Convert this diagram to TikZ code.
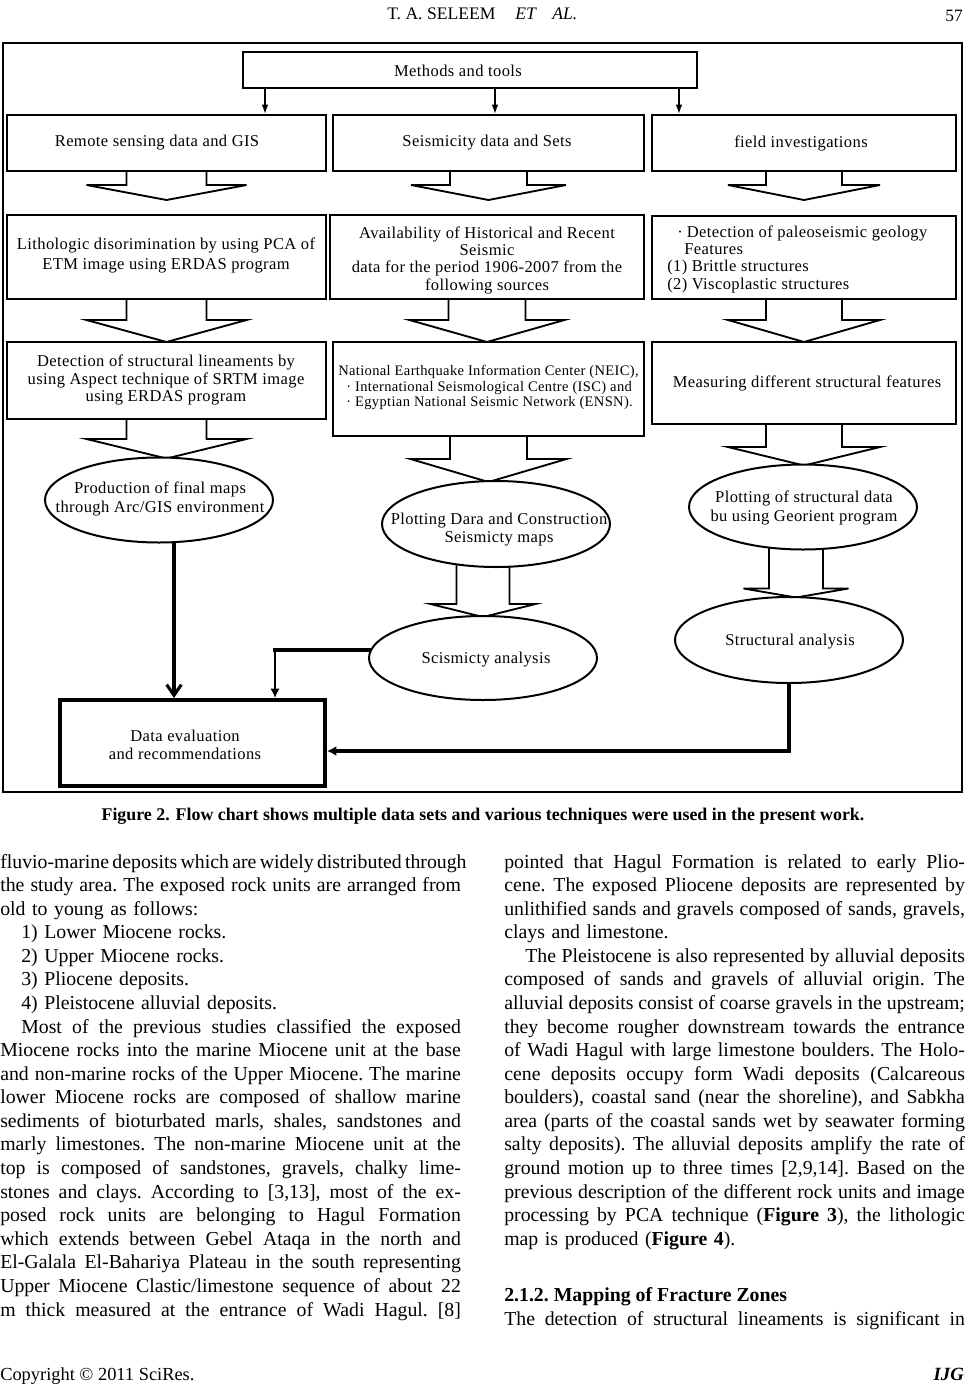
\documentclass[tikz,border=0pt]{standalone}
\usepackage{fontspec}
\setmainfont{Liberation Serif}
\newfontfamily\dfam[LetterSpace=2.4]{Liberation Serif}
\newcommand\dsize[2]{\dfam\fontsize{#1}{#2}\selectfont}
\newcommand\dfont{\dsize{12.4pt}{13pt}}
\newcommand\bodyfont{\fontsize{14.85pt}{17.685pt}\selectfont\frenchspacing}
\newcommand\bodyind{\hspace*{15.75pt}}
\newcommand\jl[1]{\makebox[345.5pt][s]{\spaceskip=0pt\xspaceskip=0pt #1}}
\usetikzlibrary{calc,arrows.meta,shapes.geometric,fit}
\pgfdeclarelayer{bg}
\pgfsetlayers{bg,main}
\newcommand\blockarrow[5]{%
  \draw[blk] ($(#1)+(-#2,-4)$) -- ($(#1)+(-#2,#4)$) -- ($(#1)+(-#3,#4)$) -- ($(#1)+(0,#5)$)
    -- ($(#1)+(#3,#4)$) -- ($(#1)+(#2,#4)$) -- ($(#1)+(#2,-4)$);}
\begin{document}
\begin{tikzpicture}[x=0.75pt,y=-0.75pt,
  box/.style={draw, line width=1.5pt, fill=white, inner sep=0pt, font=\dfont, align=center},
  oval/.style={draw, ellipse, line width=1.5pt, fill=white, inner sep=0pt, minimum width=171pt},
  txt/.style={inner sep=0pt, font=\dfont, align=center},
  blk/.style={line width=1.4pt, line join=miter},
  marrow/.style={line width=1.1pt, -{Latex[length=7pt,width=5pt]}},
  body/.style={inner sep=0pt, text width=345.5pt, align=left, font=\bodyfont},
]
\useasboundingbox (0,0) rectangle (969,1386);

% header
\node[font=\fontsize{13.2pt}{15pt}\selectfont, anchor=base west, inner sep=0pt] (hdr) at (387,19) {T. A. SELEEM};
\node[font=\fontsize{13.2pt}{15pt}\selectfont\itshape, anchor=base west, inner sep=0pt] (hdr2) at (515,19) {ET};
\node[font=\fontsize{13.2pt}{15pt}\selectfont\itshape, anchor=base west, inner sep=0pt] (hdr3) at (552,19) {AL.};
\node[font=\fontsize{13pt}{15pt}\selectfont, anchor=base east, inner sep=0pt] (pg) at (963,21) {57};

% frame
\node[draw, line width=0.8pt, fit={(3,43) (962,792)}, inner sep=0pt] (frame) {};

% top box
\node[box, fit={(243,52) (697,88)}] (meth) {};
\node[txt] (methT) at (458,71) {Methods and tools};

% row 1
\node[box, fit={(7,115) (326,171)}] (rs) {};
\node[txt] (rsT) at (157,143) {Remote sensing data and GIS};
\node[box, fit={(333,115) (644,171)}] (sd) {};
\node[txt] (sdT) at (487,143) {Seismicity data and Sets};
\node[box, fit={(652,115) (956,171)}] (fi) {};
\node[txt] (fiT) at (801,143) {field investigations};

% row 2
\node[box, fit={(7,215) (326,299)}] (li) {};
\node[txt, font={\dsize{12.4pt}{15pt}}] (liT) at (166,255)
  {Lithologic disorimination by using PCA of\\ETM image using ERDAS program};
\node[box, fit={(330,215) (644,299)}] (av) {};
\node[txt] (avT) at (487,260)
  {Availability of Historical and Recent\\Seismic\\data for the period 1906-2007 from the\\following sources};
\node[box, fit={(652,216) (956,299)}] (pa) {};
\node[txt, align=left, anchor=west] (paT) at (667,259)
  {\hspace*{7.5pt}·\hspace{3pt}Detection of paleoseismic geology\\\hspace*{12.75pt}Features\\(1) Brittle structures\\(2) Viscoplastic structures};

% row 3
\node[box, fit={(7,342) (326,419)}] (dl) {};
\node[txt] (dlT) at (166,380)
  {Detection of structural lineaments by\\using Aspect technique of SRTM image\\using ERDAS program};
\node[box, fit={(333,342) (644,436)}] (ne) {};
\node[txt, align=left, anchor=west, font={\dsize{10.9pt}{11.6pt}}] (neT) at (338,387.5)
  {National Earthquake Information Center (NEIC),\\\hspace*{6pt}·\hspace{3pt}International Seismological Centre (ISC) and\\\hspace*{6pt}·\hspace{3pt}Egyptian National Seismic Network (ENSN).};
\node[box, fit={(652,342) (956,424)}] (me) {};
\node[txt] (meT) at (807,383) {Measuring different structural features};

% ellipses
\node[oval, minimum height=63.75pt] (pr) at (159,500) {};
\node[txt, font={\dsize{12.4pt}{14.25pt}}] (prT) at (160,498.5) {Production of final maps\\through Arc/GIS environment};
\node[oval, minimum height=64.5pt] (pd) at (496,524) {};
\node[txt, font={\dsize{12.4pt}{13.5pt}}] (pdT) at (499,530) {Plotting Dara and Construction\\Seismicty maps};
\node[oval, minimum height=63.75pt] (ps) at (803,507) {};
\node[txt, font={\dsize{12.4pt}{14.25pt}}] (psT) at (804,507.5) {Plotting of structural data\\bu using Georient program};
\node[oval, minimum height=63pt] (sa) at (483,658) {};
\node[txt] (saT) at (486,660) {Scismicty analysis};
\node[oval, minimum height=64.5pt] (st) at (789,640) {};
\node[txt] (stT) at (790,642) {Structural analysis};

% data evaluation
\node[draw, line width=3pt, fill=white, fit={(60,700) (325,786)}, inner sep=0pt] (de) {};
\node[txt, font={\dsize{12.4pt}{13.5pt}}] (deT) at (185,745) {Data evaluation\\and recommendations};

% connectors
\begin{pgfonlayer}{bg}
\draw[marrow] ($(meth.south west)+(23,0)$) coordinate (m1) -- (m1 |- rs.north);
\draw[marrow] ($(meth.south west)+(253,0)$) coordinate (m2) -- (m2 |- sd.north);
\draw[marrow] ($(meth.south east)+(-19,0)$) coordinate (m3) -- (m3 |- fi.north);

\blockarrow{rs.south}{40}{80}{13}{28}
\blockarrow{sd.south}{38.5}{77.5}{13}{28}
\blockarrow{fi.south}{38}{76}{13}{28}

\blockarrow{li.south}{40}{80}{20}{42}
\blockarrow{av.south}{38.5}{77.5}{20}{42}
\blockarrow{pa.south}{38}{76}{20}{42}

\blockarrow{dl.south}{40}{80}{19}{38.5}
\blockarrow{ne.south}{38.5}{78}{22}{45}
\blockarrow{me.south}{38}{76}{22}{40.5}

\coordinate (c7) at (pd.south -| sa.north);
\blockarrow{c7}{26.5}{52.5}{36}{49}
\coordinate (c8) at ($(ps.south)!0.5!(ps.south -| st.north)$);
\blockarrow{c8}{27}{52.5}{38}{47}

\draw[line width=2.3pt, -{Straight Barb[length=8pt,width=11pt]}]
  ($(pr.south)+(15,-3)$) coordinate (q1) -- (q1 |- de.north);

\coordinate (k0) at ($(sa.center)+(0,-8)$);
\coordinate (k1) at ($(de.north east)+(-52,0)$);
\draw[line width=3pt, line cap=rect] (k0) -- (k0 -| k1);
\draw[line width=1.8pt, -{Latex[length=7pt,width=7pt]}] (k0 -| k1) -- (k1);

\coordinate (k2) at ($(de.east)+(0,8)$);
\draw[line width=3pt, -{Latex[length=7pt,width=7.5pt]}] (st.south) |- (k2);
\end{pgfonlayer}

% caption
\node[font=\bfseries\fontsize{13.4pt}{15pt}\selectfont, anchor=base, inner sep=0pt] (cap) at (483,820)
  {Figure 2. Flow chart shows multiple data sets and various techniques were used in the present work.};

% body text, left column
\node[body, anchor=base west] (colL) at (0,868) {%
\jl{fluvio-marine deposits which are widely distributed through}\\
\jl{the study area. The exposed rock units are arranged from}\\
old to young as follows:\\
\bodyind 1) Lower Miocene rocks.\\
\bodyind 2) Upper Miocene rocks.\\
\bodyind 3) Pliocene deposits.\\
\bodyind 4) Pleistocene alluvial deposits.\\
\jl{\bodyind Most of the previous studies classified the exposed}\\
\jl{Miocene rocks into the marine Miocene unit at the base}\\
\jl{and non-marine rocks of the Upper Miocene. The marine}\\
\jl{lower Miocene rocks are composed of shallow marine}\\
\jl{sediments of bioturbated marls, shales, sandstones and}\\
\jl{marly limestones. The non-marine Miocene unit at the}\\
\jl{top is composed of sandstones, gravels, chalky lime-}\\
\jl{stones and clays. According to [3,13], most of the ex-}\\
\jl{posed rock units are belonging to Hagul Formation}\\
\jl{which extends between Gebel Ataqa in the north and}\\
\jl{El-Galala El-Bahariya Plateau in the south representing}\\
\jl{Upper Miocene Clastic/limestone sequence of about 22}\\
\jl{m thick measured at the entrance of Wadi Hagul. [8]}};

% body text, right column
\node[body, anchor=base west] (colR) at (504,868) {%
\jl{pointed that Hagul Formation is related to early Plio-}\\
\jl{cene. The exposed Pliocene deposits are represented by}\\
\jl{unlithified sands and gravels composed of sands, gravels,}\\
clays and limestone.\\
\jl{\bodyind The Pleistocene is also represented by alluvial deposits}\\
\jl{composed of sands and gravels of alluvial origin. The}\\
\jl{alluvial deposits consist of coarse gravels in the upstream;}\\
\jl{they become rougher downstream towards the entrance}\\
\jl{of Wadi Hagul with large limestone boulders. The Holo-}\\
\jl{cene deposits occupy form Wadi deposits (Calcareous}\\
\jl{boulders), coastal sand (near the shoreline), and Sabkha}\\
\jl{area (parts of the coastal sands wet by seawater forming}\\
\jl{salty deposits). The alluvial deposits amplify the rate of}\\
\jl{ground motion up to three times [2,9,14]. Based on the}\\
\jl{previous description of the different rock units and image}\\
\jl{processing by PCA technique (\textbf{Figure 3}), the lithologic}\\
map is produced (\textbf{Figure 4}).};

\node[font={\bfseries\bodyfont}, anchor=base west, inner sep=0pt] (h212) at (504,1301)
  {2.1.2. Mapping of Fracture Zones};
\node[font=\bodyfont, anchor=base west, inner sep=0pt] (lastR) at (504,1325.5)
  {\jl{The detection of structural lineaments is significant in}};

% footer
\node[font=\fontsize{13.8pt}{16pt}\selectfont, anchor=base west, inner sep=0pt] (cp) at (0,1380)
  {Copyright © 2011 SciRes.};
\node[font=\bfseries\itshape\fontsize{14pt}{16pt}\selectfont, anchor=base east, inner sep=0pt] (ijg) at (964,1380) {IJG};
\end{tikzpicture}
\end{document}
